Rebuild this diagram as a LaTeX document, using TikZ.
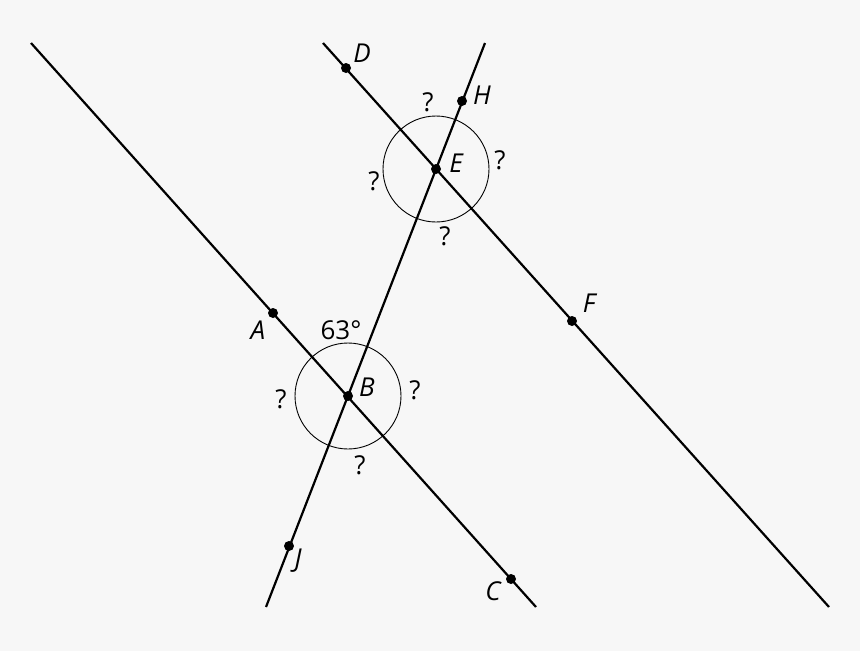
\documentclass[tikz,border=0pt]{standalone}
\usepackage{fontspec}
\setmainfont{Open Sans}
\usetikzlibrary{positioning}
\definecolor{bgray}{HTML}{F7F7F7}
\begin{document}
\begin{tikzpicture}[x=1pt,y=-1pt]
		\tikzstyle{invisible} = [outer sep=0,inner sep=0,minimum size=0]
		\tikzstyle{dot} = [shape=circle, fill=black, inner sep=0, minimum size=10]
		\tikzstyle{ring} = [shape=circle, draw=black, line width=0.9, minimum size=106, inner sep=0]
		\tikzstyle{line} = [draw, line width=2.2, black]
		\tikzstyle{lbl} = [inner sep=0, font=\fontsize{26}{26}\selectfont\itshape]
		\tikzstyle{ask} = [inner sep=0, font=\fontsize{26}{26}\selectfont]
		\fill [bgray] (0,0) rectangle (860,651);
		\useasboundingbox (0,0) rectangle (860,651);
		% end points of the three lines
		\node [invisible] (v1) at (31,43) {};
		\node [invisible] (v2) at (536,607) {};
		\node [invisible] (v3) at (323,43) {};
		\node [invisible] (v4) at (829,607) {};
		\node [invisible] (v5) at (266,607) {};
		\node [invisible] (v6) at (485,43) {};
		\draw [line] (v1) edge (v2);
		\draw [line] (v3) edge (v4);
		\draw [line] (v5) edge (v6);
		% points
		\node [dot] (vA) at (273,313) {};
		\node [dot] (vB) at (348,396) {};
		\node [dot] (vC) at (511,579) {};
		\node [dot] (vD) at (346,68) {};
		\node [dot] (vE) at (436,169) {};
		\node [dot] (vF) at (572,321) {};
		\node [dot] (vH) at (462,101) {};
		\node [dot] (vJ) at (289,546) {};
		\node [ring] (cB) at (vB) {};
		\node [ring] (cE) at (vE) {};
		% labels
		\node [lbl] (lA) at (258,330) {A};
		\node [lbl] (lB) at (367,387) {B};
		\node [lbl] (lC) at (493,591) {C};
		\node [lbl] (lD) at (362,53) {D};
		\node [lbl] (lE) at (456,163) {E};
		\node [lbl] (lF) at (589,303) {F};
		\node [lbl] (lH) at (482,95) {H};
		\node [lbl] (lJ) at (298,561) {J};
		\node [ask] (l63) at (341,330) {63°};
		\node [ask] (qB1) at (281,399) {?};
		\node [ask] (qB2) at (415,390) {?};
		\node [ask] (qB3) at (360,465) {?};
		\node [ask] (qE1) at (428,102) {?};
		\node [ask] (qE2) at (500,160) {?};
		\node [ask] (qE3) at (374,181) {?};
		\node [ask] (qE4) at (445,236) {?};
\end{tikzpicture}
\end{document}
